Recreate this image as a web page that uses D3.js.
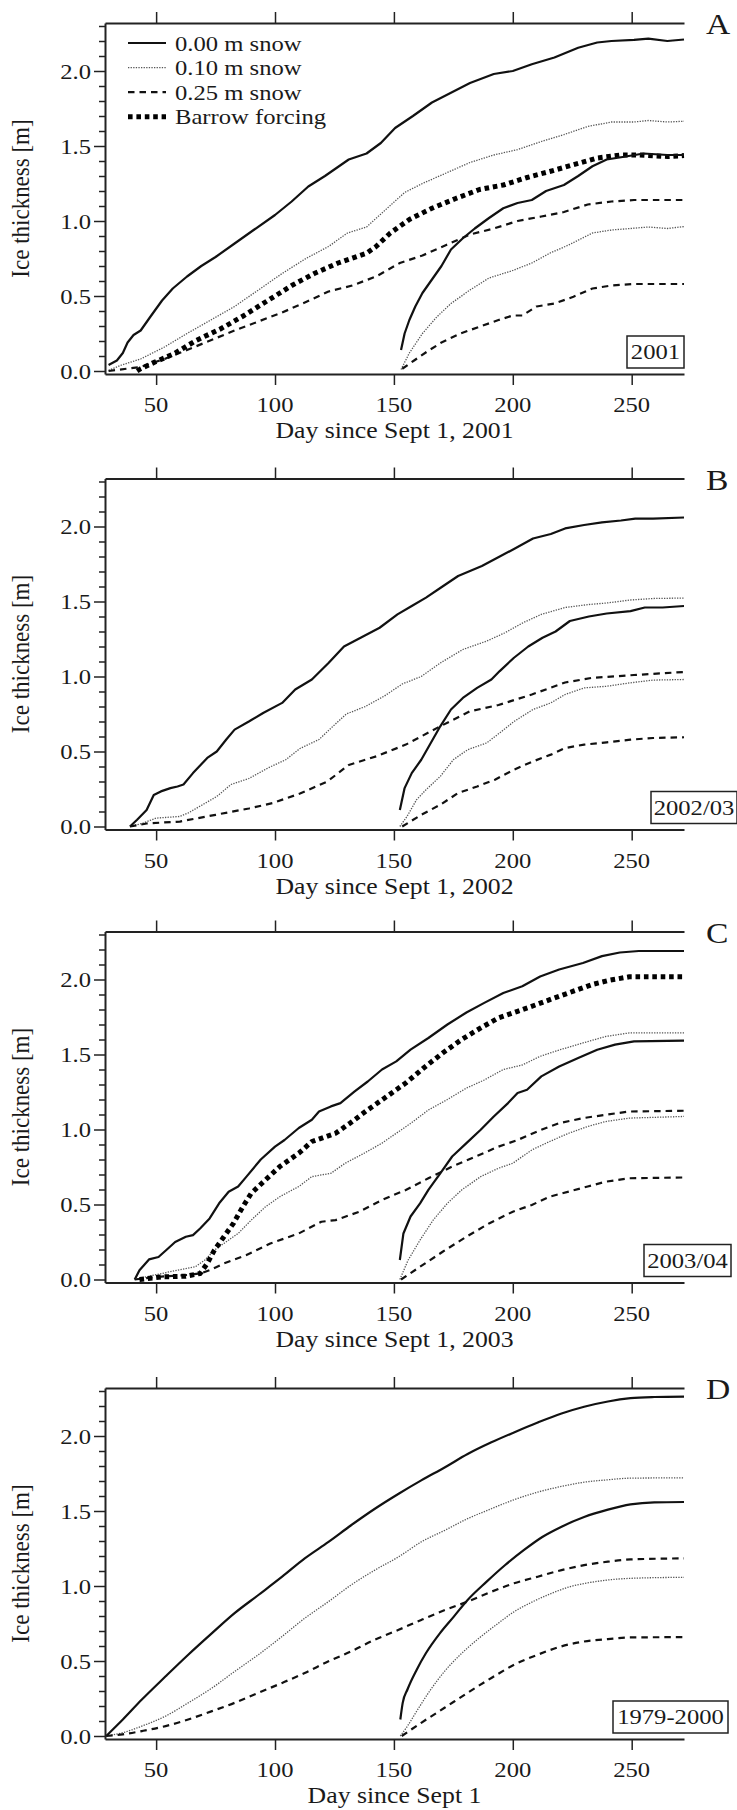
<!DOCTYPE html>
<html>
<head>
<meta charset="utf-8">
<script src="https://cdn.jsdelivr.net/npm/d3@7/dist/d3.min.js"></script>
<style>
  html, body { margin: 0; padding: 0; background: #fff; }
  svg { display: block; }
  text { font-family: "Liberation Serif", "DejaVu Serif", serif; fill: #1a1a1a; }
</style>
</head>
<body>
<svg id="chart" width="737" height="1810"></svg>
<script>
// ---- axis tick labels ----
const dayTicks = [50, 100, 150, 200, 250];
const thicknessMajor = [0, 0.5, 1.0, 1.5, 2.0];
const legendLabels = ["0.00 m snow", "0.10 m snow", "0.25 m snow", "Barrow forcing"];

// ---- panel A: 2001 ----
const A_bare = [[30,0.04],[33.5,0.07],[36,0.12],[38,0.19],[40.5,0.24],[43.5,0.27],[47.5,0.36],[52.5,0.47],[57,0.55],[63,0.63],[69,0.70],[75,0.76],[83,0.85],[91,0.94],[100,1.04],[107,1.13],[114,1.23],[121,1.30],[131,1.41],[138.5,1.45],[144.5,1.52],[150.5,1.62],[158,1.70],[166,1.79],[174,1.855],[182,1.92],[192,1.98],[200,2.0],[208,2.045],[217.5,2.09],[227.5,2.155],[235.5,2.19],[241.5,2.20],[251,2.207],[257,2.216],[265,2.20],[272,2.21]];
const A_snow10 = [[30,0.005],[35.5,0.04],[43.5,0.08],[53.5,0.16],[63,0.25],[73,0.34],[83,0.43],[93,0.54],[103,0.65],[113,0.75],[122.5,0.83],[130.5,0.92],[138.5,0.96],[146.5,1.075],[154.5,1.19],[162,1.25],[172,1.32],[182,1.39],[192,1.44],[202,1.476],[212,1.53],[221.5,1.576],[231.5,1.63],[241.5,1.66],[251,1.66],[257,1.67],[265,1.66],[272,1.665]];
const A_snow25 = [[30,0],[37.5,0.015],[43.5,0.027],[53.5,0.08],[63,0.14],[73,0.205],[83,0.27],[93,0.33],[103,0.39],[113,0.46],[122.5,0.53],[132.5,0.57],[142.5,0.63],[152.5,0.72],[162,0.77],[172,0.84],[182,0.91],[192,0.95],[202,1.0],[212,1.03],[221.5,1.06],[231.5,1.11],[241.5,1.13],[251,1.14],[272,1.14]];
const A_barrow = [[42,0],[43.5,0.015],[49.5,0.06],[57.5,0.115],[67,0.205],[77,0.28],[87,0.37],[97,0.47],[107,0.57],[116.5,0.65],[126.5,0.72],[138.5,0.785],[142.5,0.83],[148.5,0.92],[156.5,1.01],[166,1.085],[176,1.15],[186,1.21],[196,1.24],[206,1.29],[215.5,1.33],[225.5,1.375],[235.5,1.42],[245.5,1.44],[253,1.44],[265,1.43],[272,1.436]];
const A_lateBare = [[153,0.14],[154.5,0.25],[156.5,0.34],[159,0.43],[162,0.52],[166,0.61],[170,0.70],[174,0.81],[179,0.885],[184,0.95],[190,1.02],[196,1.085],[202,1.12],[208,1.14],[214,1.20],[221.5,1.24],[227.5,1.30],[233.5,1.365],[239.5,1.41],[247.5,1.43],[255,1.45],[265,1.44],[272,1.44]];
const A_lateSnow10 = [[153,0.01],[156.5,0.12],[162,0.25],[168,0.36],[174,0.45],[182,0.54],[190,0.62],[200,0.67],[208,0.72],[215.5,0.785],[223.5,0.84],[233.5,0.92],[241.5,0.94],[249.5,0.95],[257,0.96],[265,0.95],[272,0.963]];
const A_lateSnow25 = [[153.5,0.015],[158.5,0.07],[164,0.13],[170,0.19],[178,0.25],[186,0.295],[194,0.34],[200,0.37],[204,0.37],[210,0.43],[217.5,0.45],[225.5,0.495],[233.5,0.55],[241.5,0.57],[251,0.58],[272,0.58]];

// ---- panel B: 2002/03 ----
const B_bare = [[39,0],[42,0.045],[46,0.11],[49,0.21],[52,0.234],[56,0.256],[59,0.267],[61.5,0.28],[65.5,0.356],[71.5,0.457],[75.5,0.50],[79.5,0.58],[83,0.646],[89,0.70],[95,0.757],[103,0.824],[108.5,0.913],[115.5,0.98],[122.5,1.09],[129,1.20],[136,1.258],[144,1.325],[151.5,1.414],[157.5,1.47],[163.5,1.526],[169.5,1.59],[177,1.67],[187,1.737],[194.5,1.80],[200.5,1.85],[208.5,1.92],[216,1.95],[222,1.987],[230,2.01],[237.5,2.027],[245.5,2.04],[251.5,2.053],[259,2.053],[272,2.06]];
const B_snow10 = [[39,0],[44,0.02],[50,0.056],[60,0.067],[63.5,0.09],[69.5,0.145],[75.5,0.20],[81.5,0.28],[89,0.32],[97,0.39],[104.5,0.445],[110.5,0.52],[118.5,0.58],[124.5,0.67],[130,0.75],[138,0.80],[146,0.87],[153.5,0.95],[161.5,1.00],[169.5,1.09],[179,1.18],[189,1.236],[196.5,1.29],[204.5,1.36],[212,1.414],[222,1.46],[232,1.48],[239.5,1.49],[249.5,1.51],[259,1.52],[272,1.523]];
const B_snow25 = [[39,0],[46,0.02],[60,0.033],[75,0.078],[89,0.12],[99,0.156],[110.5,0.22],[122,0.30],[131,0.41],[143,0.47],[155,0.546],[169,0.664],[182,0.768],[194,0.81],[208,0.88],[222,0.96],[233,0.99],[251,1.01],[272,1.03]];
const B_lateBare = [[152.5,0.11],[154.5,0.256],[157.5,0.356],[161.5,0.445],[165.5,0.557],[169.5,0.668],[174,0.78],[179,0.857],[185,0.924],[191,0.98],[194.5,1.036],[200.5,1.125],[206.5,1.20],[212.5,1.258],[218,1.30],[224,1.37],[232,1.40],[239.5,1.42],[249.5,1.436],[255.5,1.46],[263,1.46],[272,1.47]];
const B_lateSnow10 = [[152.5,0],[155.5,0.067],[159.5,0.178],[163.5,0.245],[169.5,0.334],[175,0.445],[181,0.512],[189,0.557],[194.5,0.624],[200.5,0.70],[208.5,0.78],[216,0.824],[222,0.88],[230,0.924],[239.5,0.935],[249.5,0.958],[259,0.976],[272,0.98]];
const B_lateSnow25 = [[153.5,0],[161.5,0.078],[169.5,0.145],[177,0.223],[185,0.267],[192.5,0.312],[200.5,0.379],[208.5,0.434],[216,0.479],[222,0.523],[230,0.546],[239.5,0.561],[249.5,0.579],[259,0.59],[272,0.595]];

// ---- panel C: 2003/04 ----
const C_bare = [[41,0],[43,0.062],[47,0.134],[51,0.15],[55,0.207],[58,0.25],[62.5,0.285],[65.5,0.296],[68.5,0.34],[72.5,0.407],[76.5,0.508],[80.5,0.585],[84.5,0.62],[88,0.686],[94,0.80],[100,0.886],[104,0.93],[110,1.01],[115.5,1.065],[118.5,1.12],[123.5,1.154],[127.5,1.176],[133.5,1.254],[139,1.32],[145,1.40],[151,1.454],[157,1.532],[164.5,1.61],[172.5,1.70],[180.5,1.78],[188,1.844],[196,1.91],[204,1.955],[211.5,2.02],[219.5,2.067],[229.5,2.11],[237.5,2.156],[245,2.18],[253,2.19],[272,2.19]];
const C_snow10 = [[41,0],[49,0.029],[59,0.062],[66.5,0.085],[70.5,0.13],[74.5,0.196],[78.5,0.24],[84.5,0.307],[90,0.396],[96,0.485],[102,0.552],[110,0.62],[115.5,0.686],[123.5,0.708],[129.5,0.775],[137.5,0.842],[145,0.909],[151,0.975],[157,1.04],[164.5,1.13],[172.5,1.20],[180.5,1.276],[188,1.33],[196,1.40],[204,1.43],[211.5,1.488],[219.5,1.53],[229.5,1.577],[239,1.62],[249,1.644],[272,1.644]];
const C_snow25 = [[41,0],[51,0.018],[62.5,0.029],[68.5,0.04],[72.5,0.062],[78.5,0.107],[88,0.163],[98,0.24],[110,0.307],[119.5,0.385],[125.5,0.396],[135.5,0.452],[145,0.53],[155,0.597],[164.5,0.675],[174.5,0.753],[184.5,0.82],[194,0.886],[202,0.93],[212,0.998],[219.5,1.042],[229.5,1.076],[239,1.098],[249,1.12],[272,1.125]];
const C_barrow = [[43,0],[53,0.018],[62.5,0.022],[68.5,0.04],[71.5,0.107],[74.5,0.196],[78.5,0.285],[82.5,0.374],[86.5,0.486],[90,0.575],[96,0.664],[102,0.753],[110,0.842],[115.5,0.92],[121.5,0.953],[125.5,0.975],[131.5,1.042],[139,1.131],[147,1.22],[155,1.31],[162.5,1.41],[170.5,1.51],[178.5,1.60],[186.5,1.677],[194,1.744],[202,1.788],[210,1.833],[217.5,1.877],[225.5,1.922],[233.5,1.967],[241,1.996],[249,2.018],[272,2.018]];
const C_lateBare = [[152.5,0.13],[154,0.307],[157,0.42],[161,0.508],[164.5,0.597],[169.5,0.708],[174.5,0.82],[180.5,0.909],[186.5,0.998],[192,1.087],[198,1.176],[202,1.243],[206,1.265],[212,1.354],[219.5,1.42],[227.5,1.477],[235.5,1.532],[243,1.566],[251,1.588],[272,1.592]];
const C_lateSnow10 = [[152.5,0],[156,0.13],[161,0.263],[166.5,0.396],[172.5,0.508],[178.5,0.597],[186.5,0.686],[194,0.742],[200,0.775],[208,0.864],[215.5,0.92],[223.5,0.975],[231.5,1.02],[239,1.053],[249,1.076],[272,1.087]];
const C_lateSnow25 = [[153,0],[161,0.085],[170.5,0.185],[180.5,0.285],[190,0.374],[200,0.452],[208,0.497],[215.5,0.552],[223.5,0.586],[231.5,0.62],[239,0.652],[249,0.675],[272,0.68]];

// ---- panel D: 1979-2000 mean ----
const D_bare = [[29,0],[36,0.11],[44,0.243],[54,0.398],[63.5,0.542],[73.5,0.686],[83,0.819],[93,0.94],[103,1.062],[112.5,1.184],[122.5,1.294],[132,1.405],[142,1.515],[152,1.615],[161.5,1.704],[171.5,1.792],[181,1.88],[191,1.958],[200.5,2.024],[210.5,2.09],[220.5,2.15],[230,2.195],[240,2.23],[249.5,2.252],[259.5,2.26],[272,2.263]];
const D_snow10 = [[29,0],[36,0.022],[44,0.066],[54,0.133],[63.5,0.221],[73.5,0.32],[83,0.43],[93,0.542],[103,0.664],[112.5,0.785],[122.5,0.896],[132,1.007],[142,1.106],[152,1.195],[161.5,1.294],[171.5,1.372],[181,1.449],[191,1.515],[200.5,1.575],[210.5,1.626],[220.5,1.664],[230,1.692],[240,1.708],[249.5,1.719],[272,1.721]];
const D_snow25 = [[29,0],[36,0.011],[44,0.033],[54,0.066],[63.5,0.11],[73.5,0.166],[83,0.221],[93,0.288],[103,0.354],[112.5,0.42],[122.5,0.498],[132,0.564],[142,0.642],[152,0.708],[161.5,0.774],[171.5,0.84],[181,0.896],[191,0.962],[200.5,1.018],[210.5,1.062],[220.5,1.106],[230,1.139],[240,1.162],[249.5,1.177],[272,1.184]];
const D_lateBare = [[152.7,0.11],[153.7,0.221],[155.7,0.31],[159.6,0.442],[163.5,0.553],[169.4,0.686],[175.2,0.796],[181,0.907],[189,1.029],[196.8,1.14],[204.6,1.239],[212.4,1.327],[220.3,1.394],[230,1.46],[240,1.509],[249.5,1.544],[259.5,1.558],[272,1.56]];
const D_lateSnow10 = [[152.7,0],[155.7,0.066],[159.6,0.166],[165.5,0.31],[171.3,0.431],[177.2,0.531],[185,0.642],[193,0.741],[200.7,0.83],[208.5,0.896],[216.3,0.951],[224.2,0.996],[232,1.022],[240,1.04],[249.5,1.051],[272,1.058]];
const D_lateSnow25 = [[153.3,0],[161.5,0.088],[171.3,0.188],[181,0.288],[191,0.387],[200.7,0.476],[210.5,0.542],[220.3,0.597],[230,0.63],[240,0.646],[249.5,0.657],[272,0.659]];

// ---- line styles per snow case ----
const styles = {
  bare:   { stroke: "#111", width: 2.2, dash: null },
  snow10: { stroke: "#555", width: 1.3, dash: "1.3,1.3" },
  snow25: { stroke: "#111", width: 2.2, dash: "6.5,5" },
  barrow: { stroke: "#000", width: 5.0, dash: "4.6,3.8" }
};

const panels = [
  { letter: "A", zero: 371, title: "Day since Sept 1, 2001", tag: "2001", box: [627, 684],
    smooth: false, lines: [
      [A_bare, "bare"], [A_snow10, "snow10"], [A_snow25, "snow25"], [A_barrow, "barrow"],
      [A_lateBare, "bare"], [A_lateSnow10, "snow10"], [A_lateSnow25, "snow25"]] },
  { letter: "B", zero: 826.5, title: "Day since Sept 1, 2002", tag: "2002/03", box: [651, 737],
    smooth: false, lines: [
      [B_bare, "bare"], [B_snow10, "snow10"], [B_snow25, "snow25"],
      [B_lateBare, "bare"], [B_lateSnow10, "snow10"], [B_lateSnow25, "snow25"]] },
  { letter: "C", zero: 1279.5, title: "Day since Sept 1, 2003", tag: "2003/04", box: [644, 731],
    smooth: false, lines: [
      [C_bare, "bare"], [C_snow10, "snow10"], [C_snow25, "snow25"], [C_barrow, "barrow"],
      [C_lateBare, "bare"], [C_lateSnow10, "snow10"], [C_lateSnow25, "snow25"]] },
  { letter: "D", zero: 1736, title: "Day since Sept 1", tag: "1979-2000", box: [613, 728],
    smooth: true, lines: [
      [D_bare, "bare"], [D_snow10, "snow10"], [D_snow25, "snow25"],
      [D_lateBare, "bare"], [D_lateSnow10, "snow10"], [D_lateSnow25, "snow25"]] }
];

const svg = d3.select("#chart");
const SX = 1.12; // glyphs in the figure are slightly wider than tall

// text placed with a horizontal stretch
function label(g, x, y, str, size, anchor) {
  return g.append("text")
    .attr("transform", `translate(${x},${y}) scale(${SX},1)`)
    .attr("text-anchor", anchor || "start")
    .style("font-size", size + "px")
    .text(str);
}

const x = d3.scaleLinear().domain([28.5, 272]).range([105, 684]);

panels.forEach(p => {
  const g = svg.append("g");
  const y = d3.scaleLinear().domain([-0.02, 2.32]).range([p.zero + 3, p.zero - 348]);
  const yTop = y(2.32), yBot = y(-0.02);

  // bottom axis (ticks; labels placed below)
  const bottom = g.append("g").attr("transform", `translate(0,${yBot})`)
    .call(d3.axisBottom(x).tickValues(dayTicks).tickSize(11).tickSizeOuter(0).tickFormat(""));
  // top axis, ticks only
  const top = g.append("g").attr("transform", `translate(0,${yTop})`)
    .call(d3.axisTop(x).tickValues(dayTicks).tickSize(11).tickSizeOuter(0).tickFormat(""));
  // left axis: minor ticks every 0.1, major every 0.5
  const minor = d3.range(0, 24).map(i => i / 10).filter(v => v <= 2.3 && Math.round(v * 10) % 5 !== 0);
  const left = g.append("g").attr("transform", "translate(105,0)")
    .call(d3.axisLeft(y).tickValues(minor).tickSize(6).tickSizeOuter(0).tickFormat(""));
  const leftMajor = g.append("g").attr("transform", "translate(105,0)")
    .call(d3.axisLeft(y).tickValues(thicknessMajor).tickSize(11).tickSizeOuter(0).tickFormat(""));
  leftMajor.select(".domain").remove();

  [bottom, top, left, leftMajor].forEach(a => {
    a.selectAll(".domain").attr("stroke", "#222").attr("stroke-width", 2);
    a.selectAll(".tick line").attr("stroke", "#222").attr("stroke-width", 1.5);
  });

  // tick labels
  dayTicks.forEach(d => label(g, x(d), yBot + 38, d, 22, "middle"));
  thicknessMajor.forEach(v => label(g, 91, y(v) + 7.5, v.toFixed(1), 22, "end"));

  // axis titles
  label(g, (105 + 684) / 2, yBot + 64, p.title, 23, "middle");
  g.append("text")
    .attr("transform", `translate(29,${y(1.15)}) scale(${SX},1) rotate(-90)`)
    .attr("text-anchor", "middle")
    .style("font-size", "23px")
    .text("Ice thickness [m]");

  // panel letter
  label(g, 706, yTop + 11, p.letter, 30, "start");

  // series
  const line = d3.line()
    .x(d => x(d[0])).y(d => y(d[1]))
    .curve(p.smooth ? d3.curveMonotoneX : d3.curveLinear);
  p.lines.forEach(([data, key]) => {
    const s = styles[key];
    g.append("path")
      .datum(data)
      .attr("d", line)
      .attr("fill", "none")
      .attr("stroke", s.stroke)
      .attr("stroke-width", s.width)
      .attr("stroke-dasharray", s.dash)
      .attr("stroke-linejoin", "round");
  });

  // period tag box
  const bx0 = p.box[0], bx1 = p.box[1];
  const by1 = p.zero - 3, by0 = by1 - 32;
  g.append("rect")
    .attr("x", bx0).attr("y", by0).attr("width", bx1 - bx0).attr("height", by1 - by0)
    .attr("fill", "#fff").attr("stroke", "#222").attr("stroke-width", 1.5);
  label(g, (bx0 + bx1) / 2, by1 - 9, p.tag, 22, "middle");

  // legend in the first panel
  if (p.letter === "A") {
    const keys = ["bare", "snow10", "snow25", "barrow"];
    keys.forEach((k, i) => {
      const cy = 43 + i * 24.6;
      const s = styles[k];
      g.append("line")
        .attr("x1", 128).attr("x2", 166).attr("y1", cy).attr("y2", cy)
        .attr("stroke", s.stroke).attr("stroke-width", s.width)
        .attr("stroke-dasharray", s.dash);
      label(g, 175, cy + 7.5, legendLabels[i], 22, "start");
    });
  }
});
</script>
</body>
</html>
